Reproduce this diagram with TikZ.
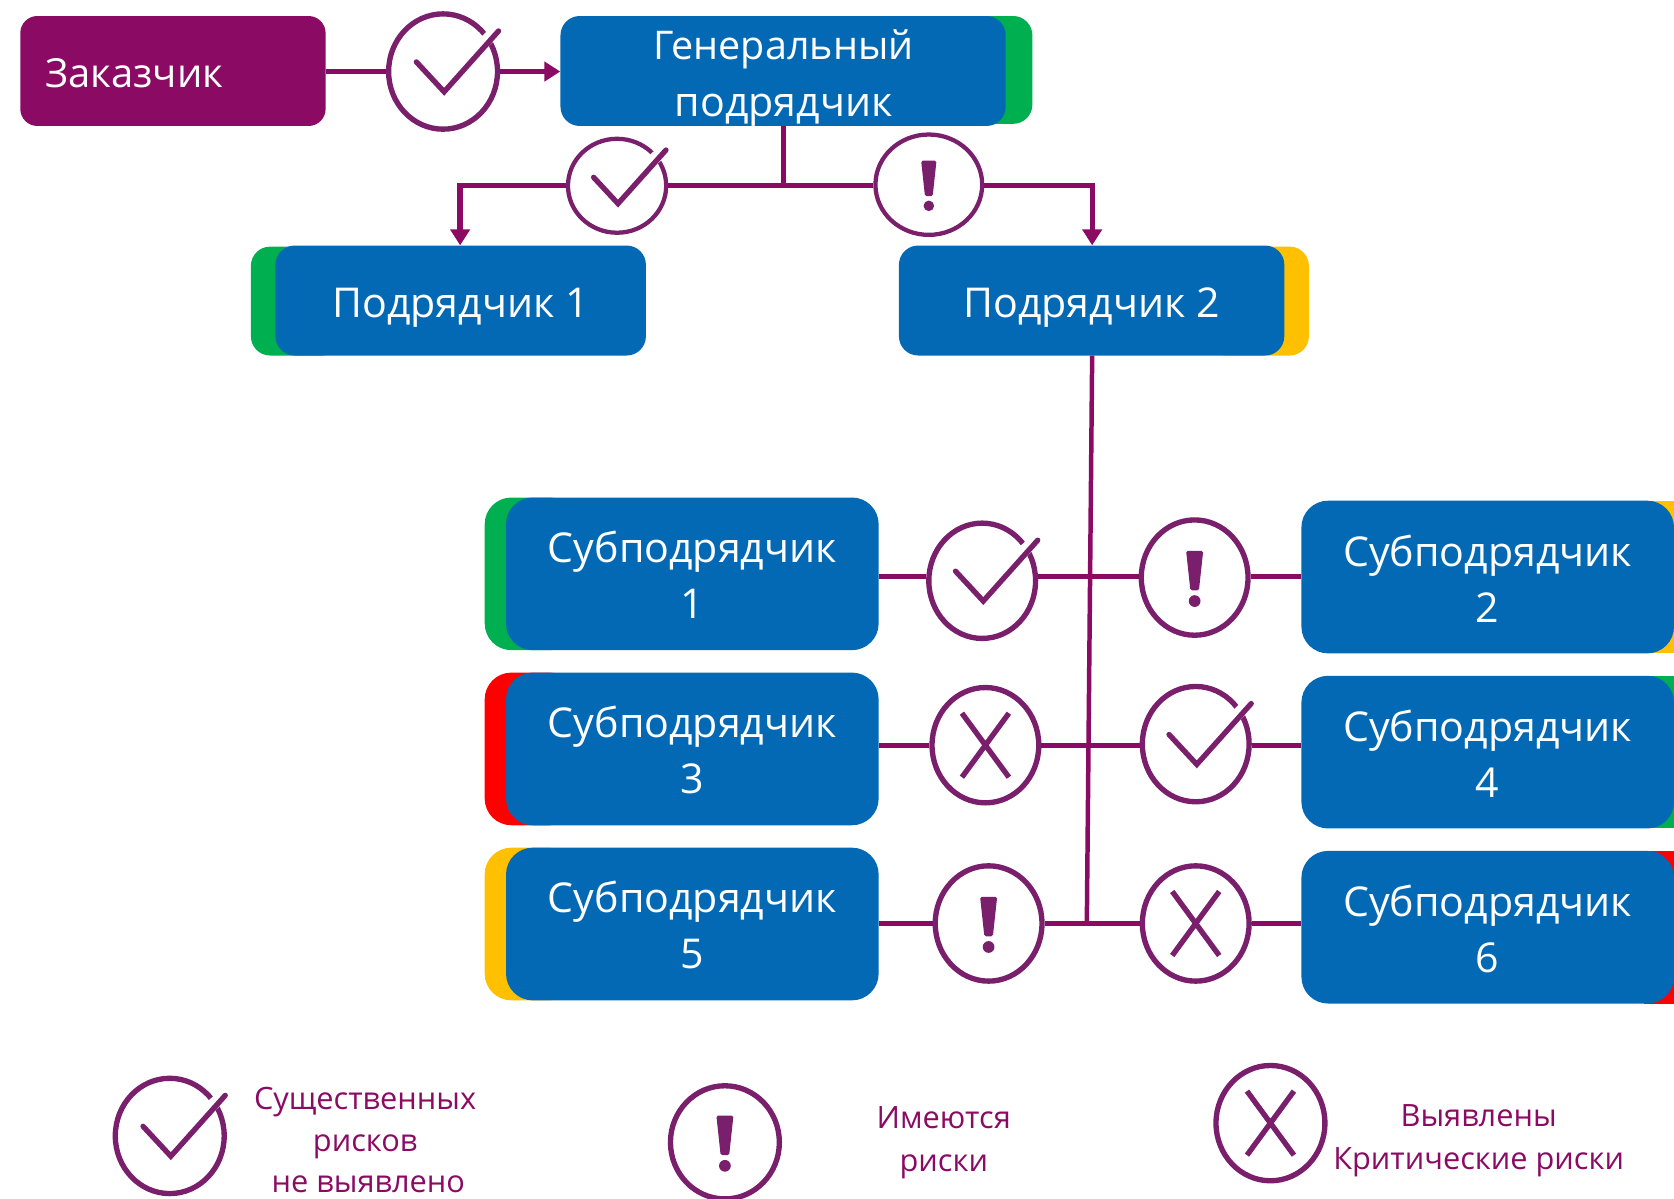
\documentclass[tikz,border=0pt]{standalone}
\usepackage{fontspec}
\setmainfont{Open Sans}
\usetikzlibrary{shapes.geometric,arrows.meta}
\definecolor{plum}{HTML}{8B0A64}
\definecolor{ringc}{HTML}{7A1F6C}
\definecolor{bluebox}{HTML}{0369B5}
\definecolor{okgreen}{HTML}{00AF50}
\definecolor{warny}{HTML}{FFC000}
\definecolor{critr}{HTML}{FF0000}
\tikzset{
  x=1pt,y=-1pt,
  box/.style={rectangle,inner sep=0pt},
  boxtext/.style={text=white,align=center,inner sep=0pt,font=\fontsize{38.5}{52}\selectfont},
  ring/.style={ellipse,draw=ringc,line width=5pt,fill=white,inner sep=0pt},
  conn/.style={draw=plum,line width=5pt},
  arrowconn/.style={conn,-{Triangle[length=15pt,width=18pt]}},
  mark line/.style={draw=ringc,line width=5pt,line join=miter},
  legendtext/.style={text=plum,align=center,font=\fontsize{28.8}{40.5}\selectfont}
}
% name, x0,y0,x1,y1, colour, radius
\newcommand{\rbox}[7]{%
  \pgfmathsetmacro{\cxx}{(#2+#4)/2}\pgfmathsetmacro{\cyy}{(#3+#5)/2}%
  \pgfmathsetmacro{\www}{#4-#2}\pgfmathsetmacro{\hhh}{#5-#3}%
  \node[box,fill=#6,rounded corners=#7pt,minimum width=\www pt,minimum height=\hhh pt] (#1) at (\cxx,\cyy) {};}
% box name, dy, text
\newcommand{\lbl}[3]{\node[boxtext,yshift=-#2pt] (#1txt) at (#1.center) {#3};}
% name, x, y, rx, ry
\newcommand{\rring}[5]{%
  \pgfmathsetmacro{\www}{2*#4-2}\pgfmathsetmacro{\hhh}{2*#5-2}%
  \node[ring,minimum width=\www pt,minimum height=\hhh pt] (#1) at (#2,#3) {};}
% name, scale
\newcommand{\chkmark}[2]{%
  \begin{scope}[shift={(#1.center)},scale=#2]
    \draw[white,line width=11pt] (20,-10) -- (60,-48);
    \draw[mark line,line cap=round] (-25,-9) -- (1,19) -- (52,-38);
  \end{scope}}
\newcommand{\excmark}[2]{%
  \begin{scope}[shift={(#1.center)},scale=#2]
    \fill[ringc,rounded corners=1.5pt] (-8,-25) -- (8,-25) -- (4,12) -- (-4,12) -- cycle;
    \fill[ringc] (0,22) circle (5.5);
  \end{scope}}
\newcommand{\xmark}[2]{%
  \begin{scope}[shift={(#1.center)},scale=#2]
    \draw[mark line,line width=5pt] (-22,-30) -- (22,30) (22,-30) -- (-22,30);
  \end{scope}}
\begin{document}
\begin{tikzpicture}
\useasboundingbox (0,0) rectangle (1568,1123);
% coloured backing bars
\rbox{bgen}{660}{15}{967}{116}{okgreen}{18}
\rbox{bp1}{235}{231}{320}{333}{okgreen}{18}
\rbox{bp2}{1130}{231}{1226}{333}{warny}{18}
\rbox{bs1}{454}{466}{540}{609}{okgreen}{25}
\rbox{bs3}{454}{630}{540}{773}{critr}{25}
\rbox{bs5}{454}{794}{540}{937}{warny}{25}
\node[box,fill=warny,minimum width=28pt,minimum height=143pt] (bs2) at (1554,540.5) {};
\node[box,fill=okgreen,minimum width=28pt,minimum height=143pt] (bs4) at (1554,704.5) {};
\node[box,fill=critr,minimum width=28pt,minimum height=143pt] (bs6) at (1554,868.5) {};
% boxes
\rbox{zak}{19}{15}{305}{118}{plum}{16}
\node[text=white,anchor=west,inner sep=0pt,font=\fontsize{37.5}{52}\selectfont] (zaktxt) at (42,68.5) {Заказчик};
\rbox{gen}{525}{15}{942}{118}{bluebox}{18}
\node[text=white,align=center,inner sep=0pt,font=\fontsize{37}{53}\selectfont] (gentxt) at (734,73) {Генеральный\\{\fontsize{38.5}{53}\selectfont подрядчик}};
\rbox{p1}{258}{230}{605}{333}{bluebox}{18}
\lbl{p1}{7}{Подрядчик 1}
\rbox{p2}{842}{230}{1203}{333}{bluebox}{18}
\lbl{p2}{7}{Подрядчик 2}
\rbox{s1}{474}{466}{823}{609}{bluebox}{25}
\lbl{s1}{1}{Субподрядчик\\1}
\rbox{s3}{474}{630}{823}{773}{bluebox}{25}
\lbl{s3}{1}{Субподрядчик\\3}
\rbox{s5}{474}{794}{823}{937}{bluebox}{25}
\lbl{s5}{1}{Субподрядчик\\5}
\rbox{s2}{1219}{469}{1568}{612}{bluebox}{25}
\lbl{s2}{1.5}{Субподрядчик\\2}
\rbox{s4}{1219}{633}{1568}{776}{bluebox}{25}
\lbl{s4}{1.5}{Субподрядчик\\4}
\rbox{s6}{1219}{797}{1568}{940}{bluebox}{25}
\lbl{s6}{1.5}{Субподрядчик\\6}
% risk rings
\rring{c0}{415}{67}{52}{55}
\begin{scope}[ring/.append style={line width=4pt}]
\rring{ca}{578}{174}{47}{45}
\rring{cb}{870}{173}{51}{48}
\end{scope}
\rring{r1}{920}{544}{51}{55}
\rring{r2}{1119}{541}{51}{55}
\rring{r3}{923}{698}{51}{55}
\rring{r4}{1120}{697}{51}{55}
\rring{r5}{926}{865}{51}{55}
\rring{r6}{1120}{865}{51}{55}
\rring{l1}{159}{1064}{52}{55}
\rring{l2}{679}{1070}{52}{54}
\rring{l3}{1190}{1052}{52}{55}
% marks
\chkmark{c0}{1}
\chkmark{ca}{0.88}
\excmark{cb}{0.9}
\chkmark{r1}{1}
\excmark{r2}{1}
\xmark{r3}{1}
\chkmark{r4}{1}
\excmark{r5}{1}
\xmark{r6}{1}
\chkmark{l1}{1}
\excmark{l2}{1}
\xmark{l3}{1}
% junctions
\coordinate (j0) at (734,174);
\coordinate (ja) at (431,174);
\coordinate (jb) at (1023,174);
\coordinate (j1) at (1021,540);
\coordinate (j2) at (1020,698);
\coordinate (j3) at (1018,865);
% connectors
\draw[conn] (zak.east |- c0) -- (c0.west);
\draw[arrowconn] (c0.east) -- (gen.west |- c0);
\draw[conn] (gen.south -| j0) -- (j0);
\draw[conn] (j0) -- (ca.east |- j0);
\draw[arrowconn] (ca.west |- j0) -- (ja) -- (ja |- p1.north);
\draw[conn] (j0) -- (cb.west |- j0);
\draw[arrowconn] (cb.east |- j0) -- (jb) -- (jb |- p2.north);
\draw[conn,line width=4.2pt] (jb |- p2.south) -- (j3);
\draw[conn] (s1.east |- j1) -- (r1.west |- j1);
\draw[conn] (r1.east |- j1) -- (r2.west |- j1);
\draw[conn] (r2.east |- j1) -- (s2.west |- j1);
\draw[conn] (s3.east |- j2) -- (r3.west |- j2);
\draw[conn] (r3.east |- j2) -- (r4.west |- j2);
\draw[conn] (r4.east |- j2) -- (s4.west |- j2);
\draw[conn] (s5.east |- j3) -- (r5.west |- j3);
\draw[conn] (r5.east |- j3) -- (r6.west |- j3);
\draw[conn] (r6.east |- j3) -- (s6.west |- j3);
% legend
\node[legendtext,inner sep=0pt,font=\fontsize{28.8}{39}\selectfont] (t1) at (342,1068) {Существенных\\рисков\\\hspace*{6pt}не выявлено};
\node[legendtext] (t2) at (884,1070.5) {Имеются\\риски};
\node[legendtext] (t3) at (1385,1068.5) {Выявлены\\Критические риски};
\end{tikzpicture}
\end{document}
